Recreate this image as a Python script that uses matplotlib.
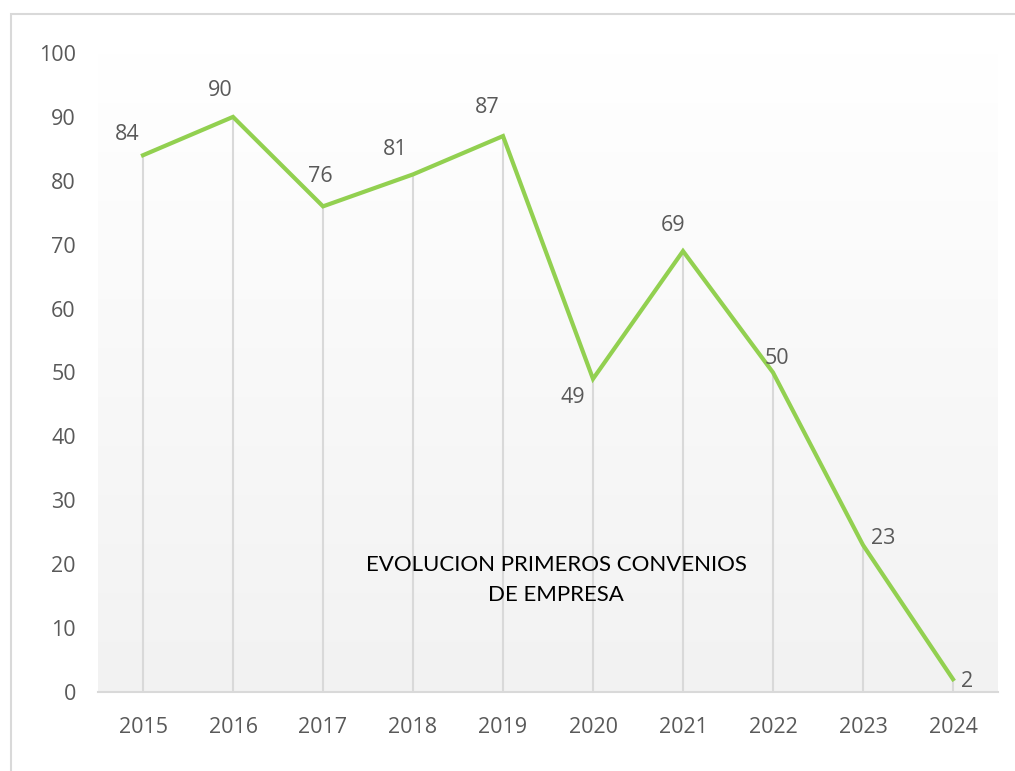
import matplotlib
matplotlib.use("Agg")
import matplotlib.pyplot as plt
import numpy as np
from matplotlib.patches import Rectangle

years = ["2015", "2016", "2017", "2018", "2019", "2020", "2021", "2022", "2023", "2024"]
values = [84, 90, 76, 81, 87, 49, 69, 50, 23, 2]
yticks = [0, 10, 20, 30, 40, 50, 60, 70, 80, 90, 100]
title_lines = ["EVOLUCION PRIMEROS CONVENIOS", "DE EMPRESA"]
# label offsets in pixels (style)
label_offsets = [(-16, 21), (-13, 26), (-3, 30), (-18, 25), (-16, 29),
                 (-20, -19), (-10, 26), (4, 14), (20, 7), (14, -2)]

W, H, DPI = 1015, 771, 100
plt.rcParams['font.family'] = ['Open Sans', 'DejaVu Sans']
fig = plt.figure(figsize=(W / DPI, H / DPI), dpi=DPI)

# outer border
fig.patches.append(Rectangle((11 / W, 0 - 0.01), 1.1, 1 - 14 / H + 0.01,
                             transform=fig.transFigure, fill=False,
                             edgecolor="#d9d9d9", linewidth=1.5))

ax = fig.add_axes([98 / W, 1 - 692 / H, 900 / W, 639 / H])
x = np.arange(len(years))
ax.set_xlim(-0.5, len(years) - 0.5)
ax.set_ylim(0, 100)

# gradient background
grad = np.linspace(0, 1, 256).reshape(-1, 1)
top = np.array([1.0, 1.0, 1.0])
bot = np.array([0xf2, 0xf2, 0xf2]) / 255
img = top + (bot - top) * grad[..., None]
ax.imshow(img, extent=[0, 1, 0, 1], transform=ax.transAxes, aspect="auto",
          zorder=0, origin="upper")
ax.set_facecolor("white")

# drop lines
ax.vlines(x, 0, values, color="#d9d9d9", linewidth=1.5, zorder=1)
ax.plot(x, values, color="#92d050", linewidth=3.0, zorder=3,
        solid_joinstyle="miter")

for xi, v, (dx, dy) in zip(x, values, label_offsets):
    ax.annotate(str(v), (xi, v), xytext=(dx * 72 / DPI, dy * 72 / DPI),
                textcoords="offset points", ha="center", va="center",
                fontsize=15.5, color="#595959", zorder=4)

ax.set_xticks(x)
ax.set_xticklabels(years)
ax.set_yticks(yticks)
ax.tick_params(axis="both", length=0, labelsize=15.5, colors="#595959")
ax.tick_params(axis="x", pad=18)
ax.tick_params(axis="y", pad=16)
for s in ["top", "right", "left"]:
    ax.spines[s].set_visible(False)
ax.spines["bottom"].set_color("#d9d9d9")
ax.spines["bottom"].set_linewidth(1.5)
ax.spines["bottom"].set_zorder(2)

ax.text(0.509, 0.175, "\n".join(title_lines), transform=ax.transAxes,
        ha="center", va="center", fontsize=16, color="black",
        family=["Lato", "DejaVu Sans"], linespacing=1.65, zorder=4)

fig.savefig("out.png", dpi=DPI)
